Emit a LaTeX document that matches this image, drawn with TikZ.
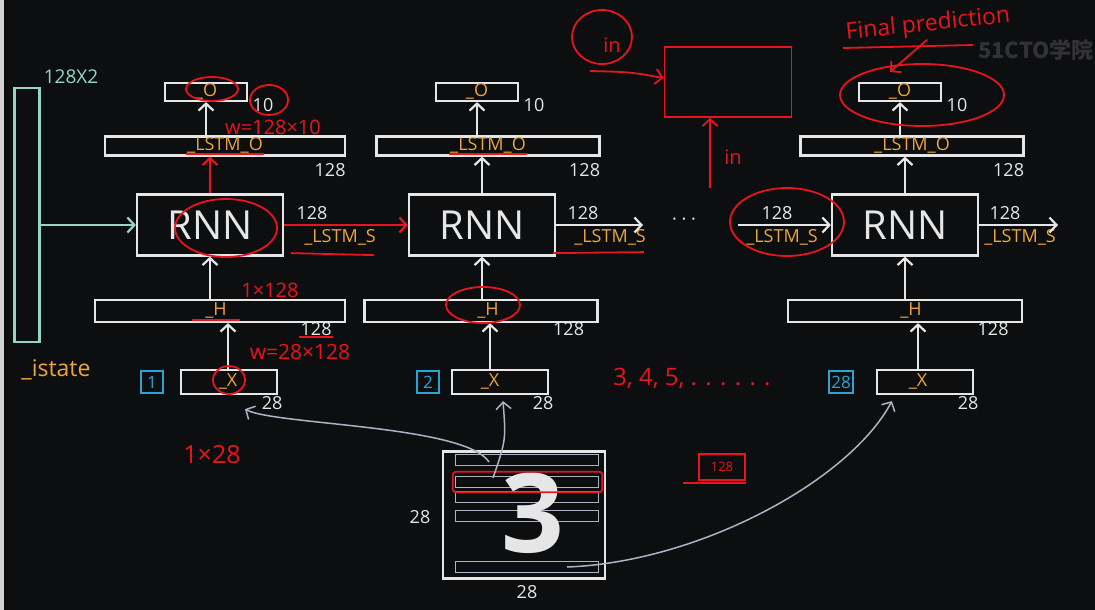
\documentclass[tikz,border=0pt]{standalone}
\usepackage{fontspec}
\setmainfont{Open Sans}
\newfontfamily\cjk{Noto Sans CJK SC}
\usetikzlibrary{arrows.meta,positioning,calc}
\definecolor{board}{RGB}{13,14,16}
\definecolor{chalk}{RGB}{230,230,230}
\definecolor{amber}{RGB}{236,166,58}
\definecolor{inkred}{RGB}{232,20,30}
\definecolor{mint}{RGB}{150,212,195}
\definecolor{sky}{RGB}{40,165,215}
\definecolor{steel}{RGB}{175,178,196}
\definecolor{wm}{RGB}{50,50,52}

\tikzset{
  >={Straight Barb[length=7pt,width=15pt]},
  bar/.style={draw=chalk, line width=2.2pt, minimum height=19pt, inner sep=0pt},
  cell/.style={draw=chalk, line width=2.2pt, minimum width=146pt, minimum height=61pt, text=chalk, font=\fontsize{40}{40}\selectfont},
  lbl/.style={text=amber, font=\fontsize{18}{18}\selectfont, inner sep=1pt},
  num/.style={text=chalk, font=\fontsize{18}{18}\selectfont, inner sep=1pt},
  idx/.style={draw=sky, text=sky, line width=2.2pt, minimum width=22pt, minimum height=22pt, inner sep=2pt, font=\fontsize{17}{17}\selectfont},
  arr/.style={->, draw=chalk, line width=2.2pt},
  note/.style={text=inkred, font=\fontsize{20}{20}\selectfont, inner sep=1pt},
  ring/.style={draw=inkred, line width=1.8pt},
  feed/.style={->, draw=steel, line width=1.5pt},
  strip/.style={draw=steel, line width=1.5pt, minimum width=143pt, minimum height=11pt, inner sep=0pt}
}

\begin{document}
\begin{tikzpicture}[x=1pt,y=-1pt]
\useasboundingbox (0,0) rectangle (1095,610);
\fill[board] (0,0) rectangle (1095,610);
\fill[chalk!80!gray] (0,0) rectangle (4,610);

\node[draw=mint, line width=2.2pt, minimum width=25pt, minimum height=254pt] (state) at (27,215) {};
\node[text=mint, font=\fontsize{19}{19}\selectfont] (statedim) at (71,77) {128X2};
\node[lbl, font=\fontsize{23}{23}\selectfont] (istate) at (56,370) {\_istate};
\node[text=wm, font=\cjk\bfseries\fontsize{22}{22}\selectfont] (mark) at (1036,50) {51CTO学院};

\foreach \i/\r/\ox/\lx/\lw/\hx/\hw/\xx/\xl/\cx/\cn/\ac in {
    1/210/206/225/240/220/250/229/228/152/1/inkred,
    2/482/477/488/223/481/233/500/490/428/2/chalk,
    3/905/900/912/223/905/234/925/918/841/28/chalk} {
    \node[bar, minimum width=82pt, minimum height=18pt] (o\i) at (\ox,92) {};
    \node[lbl] (ol\i) at (\ox,91) {\_O};
    \node[num] (on\i) at (\ox+57,105) {10};
    \node[bar, minimum width=\lw] (lo\i) at (\lx,146) {};
    \node[lbl] (lol\i) at (\lx,145) {\_LSTM\_O};
    \node[num] (lon\i) at ($(lo\i.south east)+(-16,13)$) {128};
    \node[cell] (rnn\i) at (\r,225) {RNN};
    \node[bar, minimum width=\hw, minimum height=22pt] (h\i) at (\hx,311) {};
    \node[lbl] (hl\i) at (\r+6,310) {\_H};
    \node[num] (hn\i) at ($(h\i.south east)+(-30,6)$) {128};
    \node[bar, minimum width=96pt, minimum height=24pt] (x\i) at (\xx,382) {};
    \node[lbl] (xl\i) at (\xl,381) {\_X};
    \node[num] (xn\i) at ($(x\i.south east)+(-6,8)$) {28};
    \node[idx] (k\i) at (\cx,382) {\cn};
    \draw[arr] (x\i.north -| xl\i) -- (h\i.south -| xl\i);
    \draw[arr] (h\i.north -| rnn\i) -- (rnn\i.south);
    \draw[arr, draw=\ac] (rnn\i.north) -- (lo\i.south -| rnn\i);
    \draw[arr] (lo\i.north -| ol\i) -- (o\i.south -| ol\i);
}

\foreach \j/\ax/\bx in {1/312/340, 2/583/610, 3/777/782, 4/1005/1020} {
    \node[num] (sa\j) at (\ax,213) {128};
    \node[lbl] (sb\j) at (\bx,237) {\_LSTM\_S};
}
\coordinate (s2) at (643,225);
\coordinate (s3) at (738,225);
\coordinate (s4) at (1058,225);
\draw[arr, draw=inkred] (rnn1) -- (rnn2);
\draw[arr] (rnn2) -- (s2);
\draw[arr] (s3) -- (rnn3);
\draw[arr] (rnn3) -- (s4);
\node[num] (gap) at (684,222) {· · ·};
\draw[arr, draw=mint] (state.east |- rnn1) -- (rnn1.west);

\node[note] (w1) at (273,127) {w=128×10};
\node[note] (hw1) at (270,290) {1×128};
\node[note, font=\fontsize{21}{21}\selectfont] (w2) at (300,352) {w=28×128};
\node[note, font=\fontsize{25}{25}\selectfont] (xs) at (212,455) {1×28};
\draw[ring] (212,89) ellipse [x radius=26, y radius=12];
\draw[ring] (269,100) ellipse [x radius=19, y radius=15];
\draw[ring] (226,228) ellipse [x radius=51, y radius=29];
\draw[ring] (229,380) ellipse [x radius=16, y radius=14];
\draw[ring] (483,305) ellipse [x radius=37, y radius=18];
\draw[ring] (787,222) ellipse [x radius=57, y radius=34];
\draw[ring] (922,95) ellipse [x radius=82, y radius=31];
\foreach \i in {1,2} \draw[ring] (lol\i.south west) -- (lol\i.south east);
\draw[ring] ($(hl1.south west)+(-12,1)$) -- ($(hl1.south east)+(12,1)$);
\draw[ring] (hn1.south west) -- (hn1.south east);
\draw[ring] ($(sb1.south west)+(-12,7)$) -- ($(sb1.south east)+(-3,9)$);
\draw[ring] ($(sb2.south west)+(-20,7)$) -- ($(sb2.south east)+(-3,6)$);

\node[note, font=\fontsize{23}{23}\selectfont, rotate=6] (fp) at (928,25) {Final prediction};
\draw[ring] (843,48) -- (973,45);
\draw[ring, ->] ($(fp.south)+(-2,2)$) -- ($(o3.north)+(-10,-10)$);

\node[draw=inkred, line width=1.8pt, minimum width=127pt, minimum height=70pt] (pin) at (728,82) {};
\node[note] (ina) at (612,45) {in};
\draw[ring] (602,37) ellipse [x radius=30, y radius=27];
\coordinate (inatail) at (590,71);
\draw[ring, ->] (inatail) .. controls (630,72) .. ($(pin.west)+(0,-4)$);
\node[note] (inb) at (733,157) {in};
\coordinate (inbtail) at (710,188);
\draw[ring, ->] (inbtail) -- (inbtail |- pin.south);
\node[note, font=\fontsize{24}{24}\selectfont, anchor=west] (more) at (612,378) {3, 4, 5, . . . . . .};
\node[draw=inkred, line width=1.6pt, text=inkred, font=\fontsize{13}{13}\selectfont, minimum width=46pt, minimum height=26pt, inner sep=1pt] (bs) at (722,467) {128};
\draw[ring] ($(bs.south west)+(-15,2)$) -- ($(bs.south east)+(0,2)$);

\node[draw=chalk, line width=2.2pt, minimum width=162pt, minimum height=127pt] (img) at (524,515) {};
\foreach \r/\y in {1/460, 2/482, 3/497, 4/516, 5/567} {
    \node[strip] (row\r) at (527,\y) {};
}
\node[text=chalk, font=\bfseries\fontsize{110}{110}\selectfont] (digit) at (533,513) {3};
\draw[ring, rounded corners=3pt] ($(row2.north west)+(-2,-4)$) rectangle ($(row2.south east)+(3,4)$);
\node[num] (imgh) at (420,517) {28};
\node[num] (imgw) at (527,592) {28};
\draw[feed] ($(row1.center)+(-38,2)$) .. controls (465,425) and (275,425) .. ($(x1.south)+(16,14)$);
\draw[feed] ($(row2.center)+(-34,-4)$) .. controls (506,440) .. ($(x2.south)+(3,6)$);
\draw[feed] ($(row5.center)+(40,0)$) .. controls (700,562) and (850,480) .. ($(x3.south west)+(16,6)$);
\end{tikzpicture}
\end{document}
